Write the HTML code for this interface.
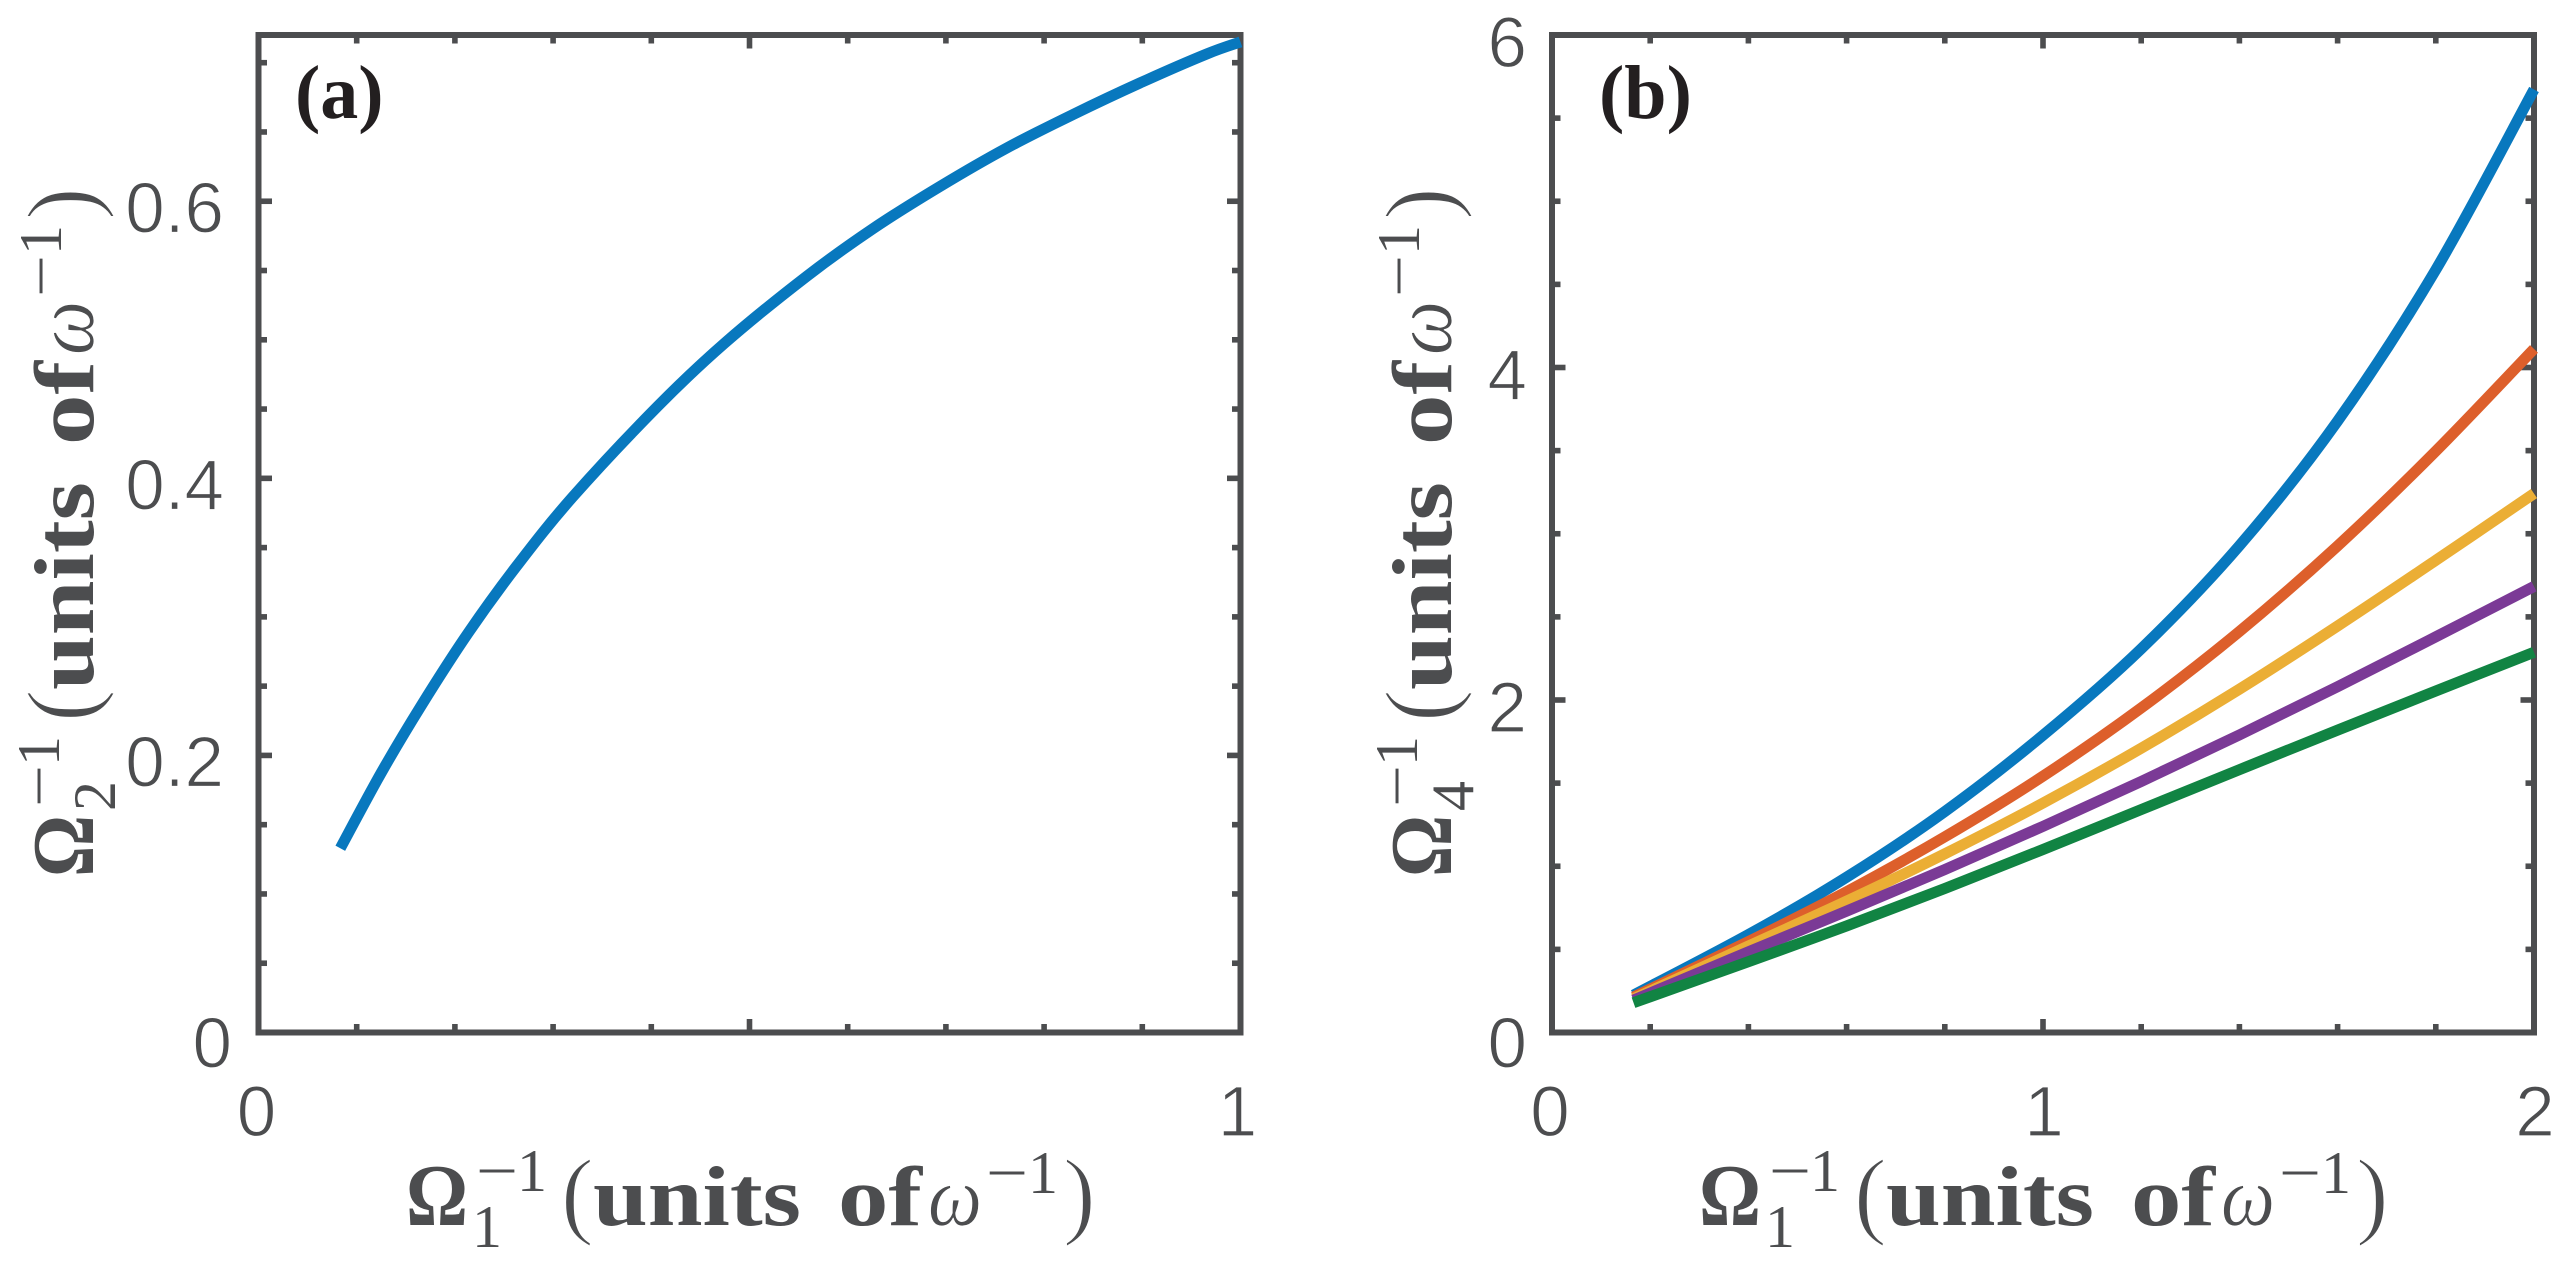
<!DOCTYPE html>
<html lang="en">
<head>
<meta charset="utf-8">
<title>Inverse frequency relations</title>
<style>
html,body{margin:0;padding:0;background:#fff;width:2571px;height:1275px;overflow:hidden}
svg{display:block}
text{fill:#4c4d4f;font-family:"Liberation Serif",serif}
.tick{font-family:"Liberation Sans",sans-serif;font-size:71px;stroke:#fff;stroke-width:1.2px}
.om{font-size:88px;font-weight:700}
.bd{font-size:85px;font-weight:700}
.sc{font-size:60px}
.pr{font-size:98px;stroke:#fff;stroke-width:1.6px}
.wi{font-size:85px;font-style:italic;stroke:#fff;stroke-width:.8px}
.tag{font-size:76px;font-weight:700;fill:#231f20}
</style>
</head>
<body>
<svg id="figure" xmlns="http://www.w3.org/2000/svg" width="2571" height="1275" viewBox="0 0 2571 1275">
  <rect width="2571" height="1275" fill="#fff"/>
  <g id="panel-a"></g>
  <g id="panel-b"></g>

  <text class="tag" x="295" y="118">(a)</text>
  <text class="tag" x="1599" y="118">(b)</text>

  <g transform="translate(406,1225)">
    <text class="om" textLength="62" lengthAdjust="spacingAndGlyphs">Ω</text>
    <text class="sc" x="70" y="-34" textLength="42" lengthAdjust="spacingAndGlyphs">−</text>
    <text class="sc" x="111" y="-34">1</text>
    <text class="sc" x="66" y="22">1</text>
    <text class="pr" x="155" y="1">(</text>
    <text class="bd" x="187" textLength="208" lengthAdjust="spacingAndGlyphs">units</text>
    <text class="bd" x="432" textLength="84" lengthAdjust="spacingAndGlyphs">of</text>
    <text class="wi" x="522" textLength="54" lengthAdjust="spacingAndGlyphs">ω</text>
    <text class="sc" x="580" y="-32" textLength="42" lengthAdjust="spacingAndGlyphs">−</text>
    <text class="sc" x="622" y="-32">1</text>
    <text class="pr" x="657" y="1">)</text>
  </g>

  <g transform="translate(1699,1225)">
    <text class="om" textLength="62" lengthAdjust="spacingAndGlyphs">Ω</text>
    <text class="sc" x="70" y="-34" textLength="42" lengthAdjust="spacingAndGlyphs">−</text>
    <text class="sc" x="111" y="-34">1</text>
    <text class="sc" x="66" y="22">1</text>
    <text class="pr" x="155" y="1">(</text>
    <text class="bd" x="187" textLength="208" lengthAdjust="spacingAndGlyphs">units</text>
    <text class="bd" x="432" textLength="84" lengthAdjust="spacingAndGlyphs">of</text>
    <text class="wi" x="522" textLength="54" lengthAdjust="spacingAndGlyphs">ω</text>
    <text class="sc" x="580" y="-32" textLength="42" lengthAdjust="spacingAndGlyphs">−</text>
    <text class="sc" x="622" y="-32">1</text>
    <text class="pr" x="657" y="1">)</text>
  </g>

  <g transform="translate(93,877) rotate(-90)">
    <text class="om" textLength="62" lengthAdjust="spacingAndGlyphs">Ω</text>
    <text class="sc" x="70" y="-34" textLength="42" lengthAdjust="spacingAndGlyphs">−</text>
    <text class="sc" x="111" y="-34">1</text>
    <text class="sc" x="66" y="22">2</text>
    <text class="pr" x="155" y="1">(</text>
    <text class="bd" x="187" textLength="208" lengthAdjust="spacingAndGlyphs">units</text>
    <text class="bd" x="432" textLength="84" lengthAdjust="spacingAndGlyphs">of</text>
    <text class="wi" x="522" textLength="54" lengthAdjust="spacingAndGlyphs">ω</text>
    <text class="sc" x="580" y="-32" textLength="42" lengthAdjust="spacingAndGlyphs">−</text>
    <text class="sc" x="622" y="-32">1</text>
    <text class="pr" x="657" y="1">)</text>
  </g>

  <g transform="translate(1451,877) rotate(-90)">
    <text class="om" textLength="62" lengthAdjust="spacingAndGlyphs">Ω</text>
    <text class="sc" x="70" y="-34" textLength="42" lengthAdjust="spacingAndGlyphs">−</text>
    <text class="sc" x="111" y="-34">1</text>
    <text class="sc" x="66" y="22">4</text>
    <text class="pr" x="155" y="1">(</text>
    <text class="bd" x="187" textLength="208" lengthAdjust="spacingAndGlyphs">units</text>
    <text class="bd" x="432" textLength="84" lengthAdjust="spacingAndGlyphs">of</text>
    <text class="wi" x="522" textLength="54" lengthAdjust="spacingAndGlyphs">ω</text>
    <text class="sc" x="580" y="-32" textLength="42" lengthAdjust="spacingAndGlyphs">−</text>
    <text class="sc" x="622" y="-32">1</text>
    <text class="pr" x="657" y="1">)</text>
  </g>
</svg>
<script>
// Panel (a) data
const aX = [0.0833,0.125,0.1662,0.2136,0.2629,0.32,0.4068,0.4747,0.5582,0.6257,0.694,0.7619,0.8294,0.8977,0.9656,1.0];
const aY = [0.133,0.1875,0.2365,0.2885,0.3367,0.3866,0.4522,0.4976,0.5458,0.5802,0.6107,0.6384,0.6626,0.6854,0.7063,0.715];
const aXTicks = [0,0.1,0.2,0.3,0.4,0.5,0.6,0.7,0.8,0.9,1];
const aXMajor = [0,0.5,1];
const aXLabels = ["0","1"];
const aYTicks = [0,0.05,0.1,0.15,0.2,0.25,0.3,0.35,0.4,0.45,0.5,0.55,0.6,0.65,0.7];
const aYMajor = [0,0.2,0.4,0.6];
const aYLabels = ["0","0.2","0.4","0.6"];

// Panel (b) data
const bX = [0.166,0.4,0.6,0.8,1.0,1.2,1.4,1.6,1.8,2.0];
const bSeries1 = [0.225,0.589,0.934,1.329,1.788,2.308,2.928,3.678,4.588,5.672];
const bSeries2 = [0.213,0.547,0.847,1.177,1.542,1.952,2.412,2.927,3.497,4.112];
const bSeries3 = [0.203,0.520,0.790,1.075,1.380,1.710,2.065,2.445,2.840,3.242];
const bSeries4 = [0.195,0.485,0.730,0.980,1.240,1.510,1.790,2.080,2.380,2.683];
const bSeries5 = [0.179,0.426,0.641,0.866,1.101,1.341,1.581,1.819,2.054,2.287];
const bXTicks = [0,0.2,0.4,0.6,0.8,1,1.2,1.4,1.6,1.8,2];
const bXMajor = [0,1,2];
const bXLabels = ["0","1","2"];
const bYTicks = [0,0.5,1,1.5,2,2.5,3,3.5,4,4.5,5,5.5,6];
const bYMajor = [0,2,4,6];
const bYLabels = ["0","2","4","6"];

const NS = 'http://www.w3.org/2000/svg';
const INK = '#4c4d4f';
const PLOT_TOP = 35;
const PLOT_BOTTOM = 1032.5;

function linear(d0, d1, r0, r1) {
  return function (v) { return r0 + (v - d0) * (r1 - r0) / (d1 - d0); };
}
function smoothPath(pts) {
  let d = 'M' + pts[0][0].toFixed(2) + ' ' + pts[0][1].toFixed(2);
  for (let i = 0; i < pts.length - 1; i++) {
    const p0 = pts[Math.max(i - 1, 0)], p1 = pts[i], p2 = pts[i + 1], p3 = pts[Math.min(i + 2, pts.length - 1)];
    const c1x = p1[0] + (p2[0] - p0[0]) / 6, c1y = p1[1] + (p2[1] - p0[1]) / 6;
    const c2x = p2[0] - (p3[0] - p1[0]) / 6, c2y = p2[1] - (p3[1] - p1[1]) / 6;
    d += 'C' + c1x.toFixed(2) + ' ' + c1y.toFixed(2) + ' ' + c2x.toFixed(2) + ' ' + c2y.toFixed(2) + ' ' + p2[0].toFixed(2) + ' ' + p2[1].toFixed(2);
  }
  return d;
}
function tickLine(parent, x1, y1, x2, y2) {
  const el = document.createElementNS(NS, 'line');
  
  
  el.setAttribute('x1', x1);
  el.setAttribute('y1', y1);
  el.setAttribute('x2', x2);
  el.setAttribute('y2', y2);
  el.setAttribute('stroke', INK);
  el.setAttribute('stroke-width', '5.6');
  parent.appendChild(el);
}
function tickLabel(parent, x, y, anchor, label) {
  const el = document.createElementNS(NS, 'text');
  
  
  el.setAttribute('class', 'tick');
  el.setAttribute('x', x);
  el.setAttribute('y', y);
  el.setAttribute('text-anchor', anchor);
  el.textContent = label;
  parent.appendChild(el);
}
function drawAxes(parent, sx, sy, xTicks, xMajor, yTicks, yMajor) {
  const L = sx.range0, R = sx.range1;
  xTicks.forEach(function (v) {
    const len = xMajor.indexOf(v) >= 0 ? 13.5 : 8.5;
    const x = sx(v);
    tickLine(parent, x, PLOT_BOTTOM, x, PLOT_BOTTOM - len);
    tickLine(parent, x, PLOT_TOP, x, PLOT_TOP + len);
  });
  yTicks.forEach(function (v) {
    const len = yMajor.indexOf(v) >= 0 ? 13.5 : 8.5;
    const y = sy(v);
    tickLine(parent, L, y, L + len, y);
    tickLine(parent, R, y, R - len, y);
  });
  const frame = document.createElementNS(NS, 'rect');
  
  
  frame.setAttribute('x', L);
  frame.setAttribute('y', PLOT_TOP);
  frame.setAttribute('width', R - L);
  frame.setAttribute('height', PLOT_BOTTOM - PLOT_TOP);
  frame.setAttribute('fill', 'none');
  frame.setAttribute('stroke', INK);
  frame.setAttribute('stroke-width', '6');
  parent.appendChild(frame);
}
function drawCurve(parent, sx, sy, xs, ys, color, name) {
  const pts = xs.map(function (x, i) { return [sx(x), sy(ys[i])]; });
  const el = document.createElementNS(NS, 'path');
  
  
  el.setAttribute('d', smoothPath(pts));
  el.setAttribute('fill', 'none');
  el.setAttribute('stroke', color);
  el.setAttribute('stroke-width', '11');
  el.setAttribute('stroke-linecap', 'butt');
  el.setAttribute('stroke-linejoin', 'round');
  parent.appendChild(el);
}

// Panel (a)
const panelA = document.getElementById('panel-a');
const ax = linear(0, 1, 258.5, 1240.5);
ax.range0 = 258.5; ax.range1 = 1240.5;
const ay = linear(0, 0.72, PLOT_BOTTOM, PLOT_TOP);
drawAxes(panelA, ax, ay, aXTicks, aXMajor, aYTicks, aYMajor);
aYMajor.forEach(function (v, i) {
  tickLabel(panelA, v === 0 ? 232 : 224, ay(v) + (v === 0 ? 35 : 31), 'end', aYLabels[i]);
});
tickLabel(panelA, ax(0) - 2, 1136, 'middle', aXLabels[0]);
tickLabel(panelA, ax(1) - 3, 1136, 'middle', aXLabels[1]);
drawCurve(panelA, ax, ay, aX, aY, '#0878be', 'panel-a-curve');

// Panel (b)
const panelB = document.getElementById('panel-b');
const bx = linear(0, 2, 1552, 2534);
bx.range0 = 1552; bx.range1 = 2534;
const by = linear(0, 6, PLOT_BOTTOM, PLOT_TOP);
drawAxes(panelB, bx, by, bXTicks, bXMajor, bYTicks, bYMajor);
bYMajor.forEach(function (v, i) {
  tickLabel(panelB, 1527, v === 0 ? by(v) + 35 : by(v) + 32, 'end', bYLabels[i]);
});
bXMajor.forEach(function (v, i) {
  tickLabel(panelB, bx(v) + (v === 0 ? -2 : 1), 1136, 'middle', bXLabels[i]);
});
drawCurve(panelB, bx, by, bX, bSeries1, '#0878be', 'panel-b-curve-1');
drawCurve(panelB, bx, by, bX, bSeries2, '#dd5f2b', 'panel-b-curve-2');
drawCurve(panelB, bx, by, bX, bSeries3, '#ebae35', 'panel-b-curve-3');
drawCurve(panelB, bx, by, bX, bSeries4, '#7b3a96', 'panel-b-curve-4');
drawCurve(panelB, bx, by, bX, bSeries5, '#118443', 'panel-b-curve-5');
</script>
</body>
</html>
